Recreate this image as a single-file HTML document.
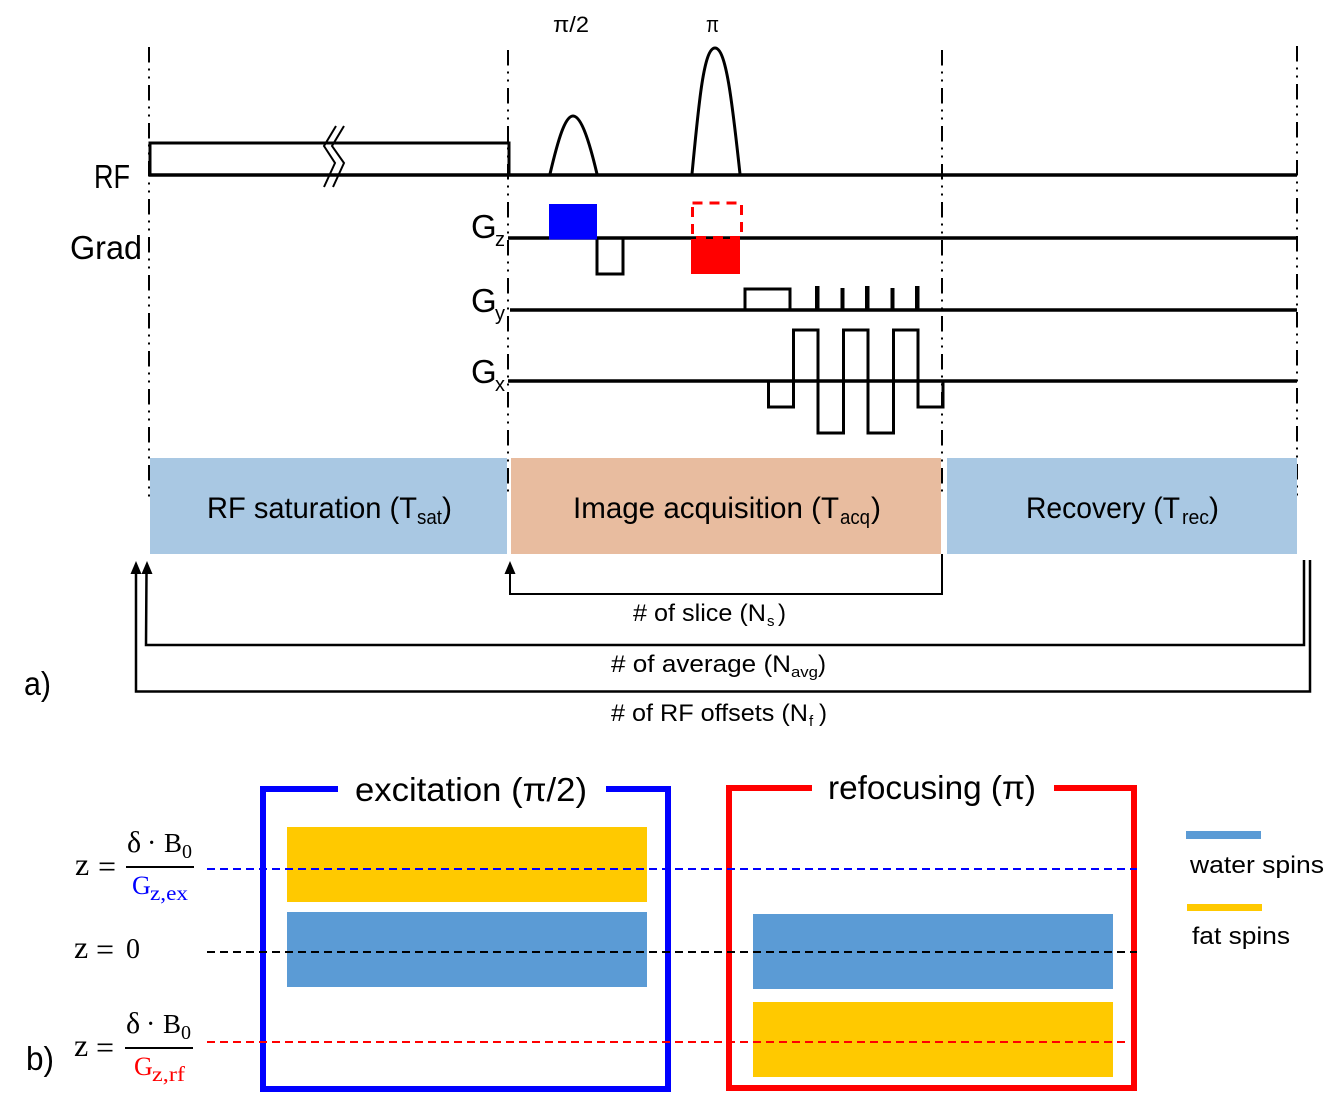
<!DOCTYPE html>
<html>
<head>
<meta charset="utf-8">
<style>
html,body{margin:0;padding:0;background:#fff;width:1342px;height:1104px;overflow:hidden}
svg{display:block}
text{font-family:"Liberation Sans",sans-serif;fill:#000}
.s text{font-family:"Liberation Serif",serif}
</style>
</head>
<body>
<svg width="1342" height="1104" viewBox="0 0 1342 1104" xmlns="http://www.w3.org/2000/svg">
<!-- dash-dot guides -->
<g stroke="#000" stroke-width="2" fill="none" stroke-dasharray="15.5 6 2 6 2 6.5">
<path d="M149 47V497"/><path d="M508 50V497"/><path d="M942 50V497"/><path d="M1297 46V497"/>
</g>
<!-- phase boxes -->
<rect x="150" y="458" width="357" height="96" fill="#A9C8E3"/>
<rect x="511" y="458" width="430" height="96" fill="#E8BC9F"/>
<rect x="947" y="458" width="350" height="96" fill="#A9C8E3"/>
<!-- RF and gradients -->
<g fill="none" stroke="#000" stroke-width="3.500">
<path d="M149 175H1297"/>
<path d="M150 175V143H509V175" stroke-width="3"/>
<path d="M550 174C558 140 565 116 573 116C581 116 589 140 597 174" stroke-width="3"/>
<path d="M692 174C699 100 704 48 715 48C726 48 732 100 740 174" stroke-width="3"/>
<path d="M508 238H1297"/>
<path d="M597 238V274H623V238" stroke-width="3"/>
<path d="M510 310H1297"/>
<path d="M745 310V289H790V310" stroke-width="3"/>
<path d="M508 381H1297"/>
<path d="M768.500 381V407H793.500V330H818V433H843.500V330H868V433H893.500V330H918V407H943V381" stroke-width="3"/>
</g>
<g fill="none" stroke="#000" stroke-width="2">
<path d="M344 126L332 146L344 163L333 187"/>
<path d="M336 126L324 146L335 163L324 187"/>
</g>
<rect x="549" y="204" width="48" height="35.500" fill="#0000ff"/>
<rect x="691" y="239" width="49" height="35" fill="#ff0000"/>
<rect x="692.500" y="203" width="49" height="34.500" fill="none" stroke="#ff0000" stroke-width="3" stroke-dasharray="10 7"/>
<g fill="#000"><rect x="815" y="286" width="4.500" height="24"/><rect x="840.500" y="288" width="4" height="22"/><rect x="865" y="286" width="4.500" height="24"/><rect x="890.500" y="288" width="4" height="22"/><rect x="915" y="286" width="4.500" height="24"/></g>
<!-- labels a -->
<text x="553" y="32" font-size="22" textLength="36" lengthAdjust="spacingAndGlyphs">π/2</text>
<text x="706" y="32" font-size="22" textLength="13" lengthAdjust="spacingAndGlyphs">π</text>
<text x="94" y="188" font-size="33" textLength="36" lengthAdjust="spacingAndGlyphs">RF</text>
<text x="70" y="259" font-size="33" textLength="72" lengthAdjust="spacingAndGlyphs">Grad</text>
<text x="471" y="238" font-size="33">G</text><text x="495" y="246" font-size="20">z</text>
<text x="471" y="312" font-size="33">G</text><text x="495" y="320" font-size="20">y</text>
<text x="471" y="383" font-size="33">G</text><text x="495" y="391" font-size="20">x</text>
<text x="207" y="518" font-size="30" textLength="210" lengthAdjust="spacingAndGlyphs">RF saturation (T</text>
<text x="417" y="524" font-size="20" textLength="25" lengthAdjust="spacingAndGlyphs">sat</text>
<text x="442" y="518" font-size="30">)</text>
<text x="573" y="518" font-size="30" textLength="266" lengthAdjust="spacingAndGlyphs">Image acquisition (T</text>
<text x="840" y="524" font-size="20" textLength="30" lengthAdjust="spacingAndGlyphs">acq</text>
<text x="871" y="518" font-size="30">)</text>
<text x="1026" y="518" font-size="30" textLength="154" lengthAdjust="spacingAndGlyphs">Recovery (T</text>
<text x="1182" y="524" font-size="20" textLength="27" lengthAdjust="spacingAndGlyphs">rec</text>
<text x="1209" y="518" font-size="30">)</text>
<!-- loops -->
<g fill="none" stroke="#000">
<path d="M510 572V594H942V554" stroke-width="2"/>
<path d="M146.500 572L146 645H1304V560" stroke-width="2.500"/>
<path d="M136 572V691.500H1310V560" stroke-width="2.500"/>
</g>
<g fill="#000"><path d="M510 561L515.500 574H504.500Z"/><path d="M147 561L152.500 574H141.500Z"/><path d="M136 561L141.500 574H130.500Z"/></g>
<text x="633" y="621" font-size="24" textLength="133" lengthAdjust="spacingAndGlyphs"># of slice (N</text>
<text x="767" y="626" font-size="15">s</text><text x="778" y="621" font-size="24">)</text>
<text x="611" y="672" font-size="24" textLength="180" lengthAdjust="spacingAndGlyphs"># of average (N</text>
<text x="791" y="677" font-size="15" textLength="27" lengthAdjust="spacingAndGlyphs">avg</text><text x="818" y="672" font-size="24">)</text>
<text x="611" y="721" font-size="24" textLength="197" lengthAdjust="spacingAndGlyphs"># of RF offsets (N</text>
<text x="809" y="726" font-size="15">f</text><text x="819" y="721" font-size="24">)</text>
<text x="24" y="695" font-size="33" textLength="27" lengthAdjust="spacingAndGlyphs">a)</text>
<!-- b bars -->
<rect x="287" y="827" width="360" height="75" fill="#FFC900"/>
<rect x="287" y="912" width="360" height="75" fill="#5B9BD5"/>
<rect x="753" y="914" width="360" height="75" fill="#5B9BD5"/>
<rect x="753" y="1002" width="360" height="75" fill="#FFC900"/>
<rect x="1186" y="831" width="75" height="8" fill="#5B9BD5"/>
<rect x="1187" y="904" width="75" height="7" fill="#FFC900"/>
<!-- frames -->
<path d="M338 789H263V1089H668V789H606" fill="none" stroke="#0000ff" stroke-width="6"/>
<path d="M812 788H729V1088H1134V788H1054" fill="none" stroke="#ff0000" stroke-width="6"/>
<!-- dashed -->
<g fill="none" stroke-width="2" stroke-dasharray="8 5">
<path d="M207 869H1137" stroke="#0000ff"/>
<path d="M207 952H1137" stroke="#000"/>
<path d="M207 1042H1127" stroke="#ff0000"/>
</g>
<text x="355" y="801" font-size="33" textLength="232" lengthAdjust="spacingAndGlyphs">excitation (π/2)</text>
<text x="828" y="799" font-size="33" textLength="208" lengthAdjust="spacingAndGlyphs">refocusing (π)</text>
<text x="1190" y="873" font-size="24" textLength="134" lengthAdjust="spacingAndGlyphs">water spins</text>
<text x="1192" y="944" font-size="24" textLength="98" lengthAdjust="spacingAndGlyphs">fat spins</text>
<text x="26" y="1070" font-size="33" textLength="28" lengthAdjust="spacingAndGlyphs">b)</text>
<!-- equations -->
<g class="s">
<text x="75" y="875" font-size="32">z</text><text x="98" y="877" font-size="32">=</text>
<text x="127" y="852" font-size="30">δ</text><text x="147" y="852" font-size="28">·</text><text x="164" y="852" font-size="27">B</text><text x="182" y="858" font-size="20">0</text>
<rect x="126" y="866" width="68" height="2" fill="#000"/>
<text x="132" y="894" font-size="26" style="fill:#0000ff">G</text><text x="150" y="900" font-size="21" textLength="38" lengthAdjust="spacingAndGlyphs" style="fill:#0000ff">z,ex</text>
<text x="74" y="958" font-size="32">z</text><text x="96" y="960" font-size="32">=</text><text x="126" y="958" font-size="28">0</text>
<text x="74" y="1056" font-size="32">z</text><text x="96" y="1058" font-size="32">=</text>
<text x="126" y="1033" font-size="30">δ</text><text x="146" y="1033" font-size="28">·</text><text x="163" y="1033" font-size="27">B</text><text x="181" y="1039" font-size="20">0</text>
<rect x="125" y="1047" width="68" height="2" fill="#000"/>
<text x="134" y="1075" font-size="26" style="fill:#ff0000">G</text><text x="152" y="1081" font-size="21" textLength="33" lengthAdjust="spacingAndGlyphs" style="fill:#ff0000">z,rf</text>
</g>
</svg>
</body>
</html>
